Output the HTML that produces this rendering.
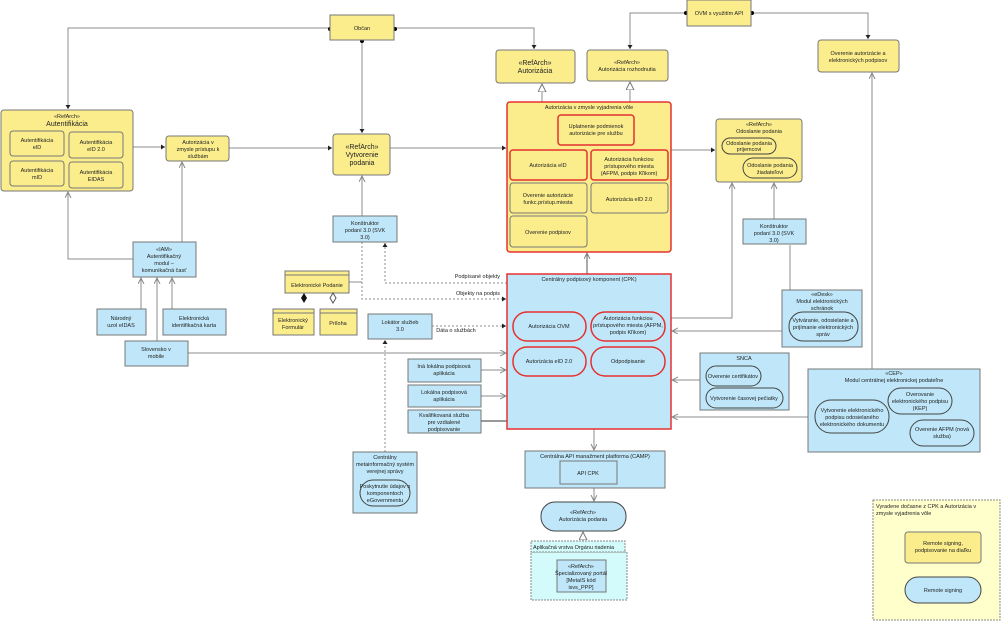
<!DOCTYPE html>
<html><head><meta charset="utf-8"><style>
body{margin:0;background:#fff;}
svg{display:block;font-family:"Liberation Sans",sans-serif;}
text{font-size:5.5px;fill:#222;text-anchor:middle;}
.y{fill:#fbed8c;stroke:#777;stroke-width:1;}
.b{fill:#bfe7f9;stroke:#777;stroke-width:1;}
.r{stroke:#e53030;stroke-width:1.5;}
.l{stroke:#8c8c8c;stroke-width:1;fill:none;}
.d{stroke:#8c8c8c;stroke-width:1;fill:none;stroke-dasharray:2,2;}
</style></head><body>
<svg width="1005" height="623" viewBox="0 0 1005 623">
<defs>
<marker id="a" markerWidth="7" markerHeight="7" refX="6" refY="3" orient="auto" markerUnits="userSpaceOnUse"><path d="M0,0 L6,3 L0,6" fill="none" stroke="#888"/></marker>
<marker id="f" markerWidth="5" markerHeight="5" refX="4" refY="2.5" orient="auto" markerUnits="userSpaceOnUse"><path d="M0,0 L4,2.5 L0,5z" fill="#222"/></marker>
<marker id="t" markerWidth="9" markerHeight="9" refX="8" refY="4" orient="auto" markerUnits="userSpaceOnUse"><path d="M0,0 L8,4 L0,8z" fill="#fff" stroke="#777"/></marker>
</defs>
<path class="l" d="M330,28 H68 V109" marker-end="url(#f)"/>
<path class="l" d="M362,40 V133" marker-end="url(#f)"/>
<path class="l" d="M394,28 H534 V49" marker-end="url(#f)"/>
<path class="l" d="M687,13 H630 V49" marker-end="url(#f)"/>
<path class="l" d="M751,13 H868 V39" marker-end="url(#f)"/>
<circle cx="330" cy="29" r="2"/><circle cx="362" cy="41" r="2"/><circle cx="395" cy="29" r="2"/><circle cx="686" cy="13" r="2"/><circle cx="752" cy="13" r="2"/>
<path class="l" d="M133,147 H165" marker-end="url(#f)"/>
<path class="l" d="M229,148 H332" marker-end="url(#f)"/>
<path class="l" d="M390,148 H506" marker-end="url(#f)"/>
<path class="l" d="M671,150 H715" marker-end="url(#f)"/>
<path class="l" d="M542,102 V84" marker-end="url(#t)"/>
<path class="l" d="M630,102 V82" marker-end="url(#t)"/>
<path class="l" style="stroke:#555" d="M587,274 V253" marker-end="url(#a)"/>
<path class="l" d="M362,216 V176" marker-end="url(#a)"/>
<path class="l" d="M133,259 H68 V192" marker-end="url(#a)"/>
<path class="l" d="M182,242 V162" marker-end="url(#a)"/>
<path class="l" d="M141,309 V278" marker-end="url(#a)"/>
<path class="l" d="M157,341 V278" marker-end="url(#a)"/>
<path class="l" d="M172,309 V278" marker-end="url(#a)"/>
<path class="l" d="M188,353 H506" marker-end="url(#a)"/>
<path class="l" d="M349,282 H362"/>
<path class="d" d="M507,283 H385 V243" marker-end="url(#f)"/>
<path class="d" d="M362,242 V299 H506" marker-end="url(#f)"/>
<path class="d" d="M432,326 H506" marker-end="url(#f)"/>
<path class="d" d="M385,452 V340" marker-end="url(#f)"/>
<path class="l" d="M481,370 H506" marker-end="url(#a)"/>
<path class="l" d="M481,396 H506" marker-end="url(#a)"/>
<path class="l" style="stroke:#333" d="M481,421 H507"/>
<path class="l" d="M671,318 H732 V183" marker-end="url(#a)"/>
<path class="l" d="M774,219 V183" marker-end="url(#a)"/>
<path class="l" d="M790,245 V312"/>
<path class="l" d="M789,331 H672" marker-end="url(#a)"/>
<path class="l" d="M700,380 H672" marker-end="url(#a)"/>
<path class="l" d="M808,417 H672" marker-end="url(#a)"/>
<path class="l" d="M872,369 V73" marker-end="url(#a)"/>
<path class="l" d="M594,429 V450" marker-end="url(#a)"/>
<path class="l" d="M594,488 V501" marker-end="url(#a)"/>
<path class="l" d="M583,560 V532" marker-end="url(#t)"/>
<text x="500" y="278" style="text-anchor:end">Podpísané objekty</text>
<text x="500" y="295" style="text-anchor:end">Objekty na podpis</text>
<text x="456" y="332">Dáta o službách</text>

<rect class="y" x="330" y="15" width="64" height="25"/><text x="362" y="30">Občan</text>
<rect class="y" x="687" y="0" width="64" height="26"/><text x="719" y="15">OVM s využitím API</text>

<rect class="y" x="1" y="110" width="132" height="81" rx="3"/>
<text x="67" y="118">«RefArch»</text><text x="67" y="126" style="font-size:7px">Autentifikácia</text>
<rect class="y" x="10" y="131" width="54" height="25" rx="3"/><text x="37" y="142">Autentifikácia</text><text x="37" y="149">eID</text>
<rect class="y" x="69" y="132" width="54" height="26" rx="3"/><text x="96" y="144">Autentifikácia</text><text x="96" y="151">eID 2.0</text>
<rect class="y" x="10" y="161" width="54" height="25" rx="3"/><text x="37" y="172">Autentifikácia</text><text x="37" y="179">mID</text>
<rect class="y" x="69" y="162" width="54" height="26" rx="3"/><text x="96" y="174">Autentifikácia</text><text x="96" y="181">EIDAS</text>

<rect class="y" x="166" y="136" width="63" height="25" rx="3"/><text x="198" y="144">Autorizácia v</text><text x="198" y="151">zmysle prístupu k</text><text x="198" y="158">službám</text>
<rect class="y" x="333" y="134" width="57" height="41" rx="3"/><text x="362" y="149" style="font-size:7px">«RefArch»</text><text x="362" y="157" style="font-size:7px">Vytvorenie</text><text x="362" y="165" style="font-size:7px">podania</text>

<rect class="b" x="333" y="216" width="64" height="26"/><text x="365" y="225">Konštruktor</text><text x="365" y="232">podaní 3.0 (SVK</text><text x="365" y="239">3.0)</text>
<rect class="b" x="133" y="242" width="63" height="35"/><text x="164" y="251">«IAM»</text><text x="164" y="258">Autentifikačný</text><text x="164" y="265">modul –</text><text x="164" y="272">komunikačná časť</text>
<rect class="b" x="97" y="309" width="49" height="26"/><text x="121" y="320">Národný</text><text x="121" y="327">uzol eIDAS</text>
<rect class="b" x="163" y="309" width="63" height="26"/><text x="194" y="320">Elektronická</text><text x="194" y="327">identifikačná karta</text>
<rect class="b" x="125" y="341" width="63" height="25"/><text x="156" y="351">Slovensko v</text><text x="156" y="358">mobile</text>

<rect class="y" x="285" y="271" width="64" height="22"/><line x1="285" y1="275" x2="349" y2="275" stroke="#777"/><text x="317" y="287">Elektronické Podanie</text>
<path d="M304,293 l-3,5 3,5 3,-5z" fill="#111"/><path d="M333,293 l-3,5 3,5 3,-5z" fill="#fff" stroke="#555"/>
<rect class="y" x="273" y="309" width="41" height="26"/><line x1="273" y1="313" x2="314" y2="313" stroke="#777"/><text x="293" y="322">Elektronický</text><text x="293" y="329">Formulár</text>
<rect class="y" x="320" y="309" width="37" height="26"/><line x1="320" y1="313" x2="357" y2="313" stroke="#777"/><text x="338" y="325">Príloha</text>
<rect class="b" x="368" y="314" width="64" height="25"/><text x="400" y="324">Lokátor služieb</text><text x="400" y="331">3.0</text>

<rect class="y" x="496" y="50" width="79" height="33" rx="3"/><text x="535" y="65" style="font-size:7px">«RefArch»</text><text x="535" y="73" style="font-size:7px">Autorizácia</text>
<rect class="y" x="587" y="50" width="81" height="31" rx="3"/><text x="627" y="64">«RefArch»</text><text x="627" y="71">Autorizácia rozhodnutia</text>
<rect class="y" x="818" y="40" width="81" height="32" rx="3"/><text x="858" y="55">Overenie autorizácie a</text><text x="858" y="62">elektronických podpisov</text>

<rect class="y r" x="507" y="102" width="164" height="150" rx="3"/><text x="589" y="109">Autorizácia v zmysle vyjadrenia vôle</text>
<rect class="y r" x="558" y="115" width="76" height="30" rx="3"/><text x="596" y="128">Uplatnenie podmienok</text><text x="596" y="135">autorizácie pre službu</text>
<rect class="y r" x="510" y="150" width="77" height="30" rx="3"/><text x="548" y="167">Autorizácia eID</text>
<rect class="y r" x="591" y="150" width="77" height="30" rx="3"/><text x="629" y="161">Autorizácia funkciou</text><text x="629" y="168">prístupového miesta</text><text x="629" y="175">(AFPM, podpis Kľikom)</text>
<rect class="y" x="510" y="183" width="77" height="30" rx="3"/><text x="548" y="197">Overenie autorizácie</text><text x="548" y="204">funkc.prístup.miesta</text>
<rect class="y" x="591" y="183" width="77" height="30" rx="3"/><text x="629" y="201">Autorizácia eID 2.0</text>
<rect class="y" x="510" y="216" width="77" height="31" rx="3"/><text x="548" y="234">Overenie podpisov</text>

<rect class="y" x="716" y="119" width="86" height="63" rx="3"/><text x="759" y="126">«RefArch»</text><text x="759" y="133">Odoslanie podania</text>
<rect class="y" x="722" y="138" width="54" height="16" rx="8" style="stroke:#444"/><text x="749" y="145">Odoslanie podania</text><text x="749" y="151">prijemcovi</text>
<rect class="y" x="743" y="158" width="54" height="20" rx="10" style="stroke:#444"/><text x="770" y="167">Odoslanie podania</text><text x="770" y="174">žiadateľovi</text>
<rect class="b" x="743" y="219" width="63" height="25"/><text x="774" y="228">Konštruktor</text><text x="774" y="235">podaní 3.0 (SVK</text><text x="774" y="242">3.0)</text>

<rect class="b r" x="507" y="274" width="164" height="155"/><text x="589" y="281">Centrálny podpisový komponent (CPK)</text>
<rect class="b r" x="513" y="312" width="73" height="29" rx="14"/><text x="549" y="328">Autorizácia OVM</text>
<rect class="b r" x="591" y="312" width="74" height="29" rx="14"/><text x="628" y="320">Autorizácia funkciou</text><text x="628" y="327">prístupového miesta (AFPM,</text><text x="628" y="334">podpis Kľikom)</text>
<rect class="b r" x="513" y="347" width="73" height="29" rx="14"/><text x="549" y="363">Autorizácia eID 2.0</text>
<rect class="b r" x="591" y="347" width="74" height="29" rx="14"/><text x="628" y="363">Odpodpisanie</text>

<rect class="b" x="408" y="359" width="73" height="23"/><text x="444" y="368">Iná lokálna podpisová</text><text x="444" y="375">aplikácia</text>
<rect class="b" x="408" y="385" width="73" height="22"/><text x="444" y="394">Lokálna podpisová</text><text x="444" y="401">aplikácia</text>
<rect class="b" x="408" y="410" width="73" height="23"/><text x="444" y="417">Kvalifikovaná služba</text><text x="444" y="424">pre vzdialené</text><text x="444" y="431">podpisovanie</text>

<rect class="b" x="782" y="290" width="80" height="57"/><text x="822" y="296">«eDesk»</text><text x="822" y="303">Modul elektronických</text><text x="822" y="310">schránok</text>
<rect class="b" x="789" y="312" width="69" height="29" rx="14" style="stroke:#444"/><text x="823" y="322">Vytváranie, odosielanie a</text><text x="823" y="329">prijímanie elektronických</text><text x="823" y="336">správ</text>

<rect class="b" x="700" y="353" width="89" height="57"/><text x="744" y="360">SNCA</text>
<rect class="b" x="706" y="366" width="55" height="20" rx="10" style="stroke:#444"/><text x="733" y="378">Overenie certifikátov</text>
<rect class="b" x="706" y="388" width="77" height="20" rx="10" style="stroke:#444"/><text x="744" y="400">Vytvorenie časovej pečiatky</text>

<rect class="b" x="808" y="369" width="172" height="83"/><text x="894" y="375">«CEP»</text><text x="894" y="382">Modul centrálnej elektronickej podateľne</text>
<rect class="b" x="815" y="400" width="74" height="33" rx="16" style="stroke:#444"/><text x="852" y="412">Vytvorenie elektronického</text><text x="852" y="419">podpisu odosielaného</text><text x="852" y="426">elektronického dokumentu</text>
<rect class="b" x="888" y="388" width="64" height="26" rx="13" style="stroke:#444"/><text x="920" y="396">Overovanie</text><text x="920" y="403">elektronického podpisu</text><text x="920" y="410">(KEP)</text>
<rect class="b" x="910" y="420" width="64" height="26" rx="13" style="stroke:#444"/><text x="942" y="431">Overenie AFPM (nová</text><text x="942" y="438">služba)</text>

<rect class="b" x="353" y="452" width="64" height="61"/><text x="385" y="459">Centrálny</text><text x="385" y="466">metainformačný systém</text><text x="385" y="473">verejnej správy</text>
<rect class="b" x="360" y="480" width="50" height="26" rx="13" style="stroke:#444"/><text x="385" y="488">Poskytnutie údajov o</text><text x="385" y="495">komponentoch</text><text x="385" y="502">eGovernmentu</text>

<rect class="b" x="525" y="451" width="140" height="37"/><text x="595" y="458">Centrálna API manažment platforma (CAMP)</text>
<rect class="b" x="560" y="461" width="57" height="23"/><text x="588" y="475">API CPK</text>
<rect class="b" x="541" y="502" width="85" height="29" rx="14" style="stroke:#444"/><text x="583" y="514">«RefArch»</text><text x="583" y="521">Autorizácia podania</text>
<rect x="531" y="552" width="96" height="48" fill="#d4fbfb" stroke="#888" stroke-dasharray="2,1"/>
<rect x="531" y="541" width="94" height="11" fill="#d4fbfb" stroke="#888" stroke-dasharray="2,1"/><text x="533" y="549" style="text-anchor:start">Aplikačná vrstva Orgánu riadenia</text>
<rect class="b" x="557" y="560" width="49" height="32"/><text x="581" y="568">«RefArch»</text><text x="581" y="575">Špecializovaný portál</text><text x="581" y="582">[MetaIS kód</text><text x="581" y="589">isvs_PPP]</text>

<rect x="873" y="500" width="127" height="120" fill="#ffffcc" stroke="#888" stroke-dasharray="2,1"/>
<text x="876" y="508" style="text-anchor:start">Vyradene dočasne z CPK a Autorizácia v</text><text x="876" y="515" style="text-anchor:start">zmysle vyjadrenia vôle</text>
<rect class="y" x="905" y="532" width="76" height="31" rx="3"/><text x="943" y="545">Remote signing,</text><text x="943" y="552">podpisovanie na diaľku</text>
<rect class="b" x="905" y="577" width="76" height="26" rx="13" style="stroke:#444"/><text x="943" y="592">Remote signing</text>
</svg>
</body></html>
